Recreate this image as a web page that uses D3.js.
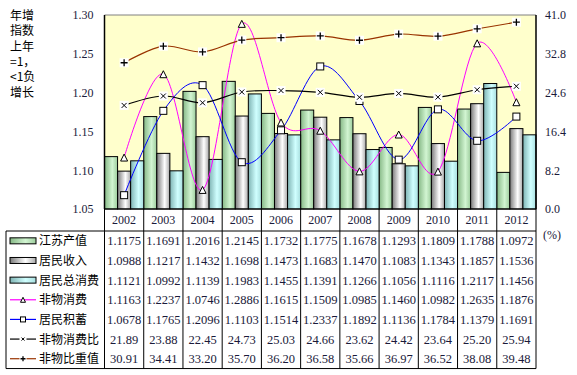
<!DOCTYPE html>
<html>
<head>
<meta charset="utf-8">
<script src="https://cdn.jsdelivr.net/npm/d3@7"></script>
<style>
  body { margin: 0; background: #fff; }
  text { font-family: "Liberation Serif", "Noto Sans CJK SC", serif; }
  .cjk { font-family: "Noto Sans CJK SC", sans-serif; }
</style>
</head>
<body>
<script>
//chart data
var years = ["2002","2003","2004","2005","2006","2007","2008","2009","2010","2011","2012"];
var jiangsuOutput = [1.1175,1.1691,1.2016,1.2145,1.1732,1.1775,1.1678,1.1293,1.1809,1.1788,1.0972];
var residentIncome = [1.0988,1.1217,1.1432,1.1698,1.1473,1.1683,1.1470,1.1083,1.1343,1.1857,1.1536];
var residentConsumption = [1.1121,1.0992,1.1139,1.1983,1.1455,1.1391,1.1266,1.1056,1.1116,1.2117,1.1456];
var nonMatConsumption = [1.1163,1.2237,1.0746,1.2886,1.1615,1.1509,1.0985,1.1460,1.0982,1.2635,1.1876];
var residentSavings = [1.0678,1.1765,1.2096,1.1103,1.1514,1.2337,1.1892,1.1136,1.1784,1.1379,1.1691];
var nonMatRatio = [21.89,23.88,22.45,24.73,25.03,24.66,23.62,24.42,23.64,25.20,25.94];
var nonMatShare = [30.91,34.41,33.20,35.70,36.20,36.58,35.66,36.97,36.52,38.08,39.48];
var leftTicks = [1.05,1.10,1.15,1.20,1.25,1.30];
var rightTicks = [0,8.2,16.4,24.6,32.8,41.0];
var yTitle = ["年增","指数","上年","=1，","<1负","增长"];

//series definitions (bars first, then lines, same order as the table)
var series = [
    {name:"江苏产值", values:jiangsuOutput, type:"bar", grad:"gGreen", fmt:".4f"},
    {name:"居民收入", values:residentIncome, type:"bar", grad:"gGray", fmt:".4f"},
    {name:"居民总消费", values:residentConsumption, type:"bar", grad:"gCyan", fmt:".4f"},
    {name:"非物消费", values:nonMatConsumption, type:"line", axis:"left", color:"#ff00ff", marker:"tri", fmt:".4f"},
    {name:"居民积蓄", values:residentSavings, type:"line", axis:"left", color:"#0000ff", marker:"sq", fmt:".4f"},
    {name:"非物消费比", values:nonMatRatio, type:"line", axis:"right", color:"#000000", marker:"x", fmt:".2f"},
    {name:"非物比重值", values:nonMatShare, type:"line", axis:"right", color:"#993300", marker:"plus", fmt:".2f"}
];

drawChart();

function drawChart(){

    var width = 577, height = 375;
    var plotLeft = 104.5, plotRight = 536, plotTop = 15, plotBottom = 209;
    var tableTop = 231, rowH = 19.65, tableLeft = 6;
    var numColor = "#1a1a3a";

    var svg = d3.select("body").append("svg")
        .attr("width", width)
        .attr("height", height);

    //gradients for the bars
    var defs = svg.append("defs");
    var grads = {
        gGreen: ["#86b886", "#d2f5d2", "#9ccc9c"],
        gGray: ["#7a7a7a", "#ffffff", "#a8a8a8"],
        gCyan: ["#7fb4b4", "#d0ffff", "#a8dede"]
    };
    Object.keys(grads).forEach(function(id){
        var g = defs.append("linearGradient").attr("id", id)
            .attr("x1", "0").attr("x2", "1").attr("y1", "0").attr("y2", "0");
        g.append("stop").attr("offset", "0").attr("stop-color", grads[id][0]);
        g.append("stop").attr("offset", "0.6").attr("stop-color", grads[id][1]);
        g.append("stop").attr("offset", "1").attr("stop-color", grads[id][2]);
    });

    //scales
    var x = d3.scaleBand().domain(years).range([plotLeft, plotRight]).padding(0);
    var barSeries = series.filter(function(s){ return s.type == "bar"; });
    var x1 = d3.scaleBand().domain(barSeries.map(function(s){ return s.name; }))
        .range([0, x.bandwidth()]).padding(0);
    var yL = d3.scaleLinear().domain([1.05, 1.30]).range([plotBottom, plotTop]);
    var yR = d3.scaleLinear().domain([0, 41]).range([plotBottom, plotTop]);

    //plot background
    svg.append("rect")
        .attr("x", plotLeft).attr("y", plotTop)
        .attr("width", plotRight - plotLeft).attr("height", plotBottom - plotTop)
        .attr("fill", "#ffffcc");

    //bars
    barSeries.forEach(function(s){
        svg.selectAll(".bar-" + s.grad)
            .data(s.values)
            .enter()
            .append("rect")
            .attr("x", function(d, i){ return x(years[i]) + x1(s.name); })
            .attr("y", function(d){ return yL(d); })
            .attr("width", x1.bandwidth())
            .attr("height", function(d){ return plotBottom - yL(d); })
            .attr("fill", "url(#" + s.grad + ")")
            .attr("stroke", "#000")
            .attr("stroke-width", 1);
    });

    //marker drawing
    function drawMarker(g, type, size){
        var h = size / 2;
        if (type == "tri") {
            g.append("path").attr("d", "M0," + (-h) + "L" + h + "," + h + "L" + (-h) + "," + h + "Z")
                .attr("fill", "#fff").attr("stroke", "#000").attr("stroke-width", 1);
        } else if (type == "sq") {
            g.append("rect").attr("x", -h).attr("y", -h).attr("width", size).attr("height", size)
                .attr("fill", "#fff").attr("stroke", "#000").attr("stroke-width", 1);
        } else if (type == "x") {
            g.append("rect").attr("x", -h - 1).attr("y", -h - 1).attr("width", size + 2).attr("height", size + 2)
                .attr("fill", "#fff");
            g.append("path").attr("d", "M" + (-h + 1) + "," + (-h + 1) + "L" + (h - 1) + "," + (h - 1) +
                "M" + (h - 1) + "," + (-h + 1) + "L" + (-h + 1) + "," + (h - 1))
                .attr("stroke", "#000").attr("stroke-width", 1);
        } else if (type == "plus") {
            g.append("rect").attr("x", -h - 1).attr("y", -h - 1).attr("width", size + 2).attr("height", size + 2)
                .attr("fill", "#fff");
            g.append("path").attr("d", "M0," + (-h) + "L0," + h + "M" + (-h) + ",0L" + h + ",0")
                .attr("stroke", "#000").attr("stroke-width", 1.3);
        }
    }

    //lines with smoothing
    var lineSeries = series.filter(function(s){ return s.type == "line"; });
    lineSeries.forEach(function(s){
        var yS = s.axis == "left" ? yL : yR;
        var line = d3.line()
            .x(function(d, i){ return x(years[i]) + x.bandwidth() / 2; })
            .y(function(d){ return yS(d); })
            .curve(d3.curveCatmullRom.alpha(0));
        svg.append("path")
            .datum(s.values)
            .attr("d", line)
            .attr("fill", "none")
            .attr("stroke", s.color)
            .attr("stroke-width", s.axis == "left" ? 1 : 1.2);
    });
    lineSeries.forEach(function(s){
        var yS = s.axis == "left" ? yL : yR;
        s.values.forEach(function(d, i){
            var g = svg.append("g")
                .attr("transform", "translate(" + (x(years[i]) + x.bandwidth() / 2) + "," + yS(d) + ")");
            drawMarker(g, s.marker, 7);
        });
    });

    //plot borders
    svg.append("line").attr("x1", plotLeft).attr("x2", plotRight).attr("y1", plotTop).attr("y2", plotTop)
        .attr("stroke", "#808080").attr("stroke-width", 1);
    svg.append("line").attr("x1", plotLeft).attr("x2", plotLeft).attr("y1", plotTop).attr("y2", plotBottom)
        .attr("stroke", "#000").attr("stroke-width", 1.5);
    svg.append("line").attr("x1", plotRight).attr("x2", plotRight).attr("y1", plotTop).attr("y2", plotBottom)
        .attr("stroke", "#000").attr("stroke-width", 1.5);

    //axes
    var axisL = svg.append("g")
        .attr("transform", "translate(" + plotLeft + ",0)")
        .call(d3.axisLeft(yL).tickValues(leftTicks).tickFormat(d3.format(".2f")).tickSize(0).tickPadding(11));
    axisL.select(".domain").remove();
    axisL.selectAll("text").attr("font-size", 12).attr("fill", numColor)
        .style("font-family", "Liberation Serif");

    var axisR = svg.append("g")
        .attr("transform", "translate(" + plotRight + ",0)")
        .call(d3.axisRight(yR).tickValues(rightTicks).tickFormat(d3.format(".1f")).tickSize(0).tickPadding(9));
    axisR.select(".domain").remove();
    axisR.selectAll("text").attr("font-size", 12).attr("fill", numColor)
        .style("font-family", "Liberation Serif");

    //y title
    svg.selectAll(".ytitle")
        .data(yTitle)
        .enter()
        .append("text")
        .attr("class", "cjk")
        .attr("x", 10)
        .attr("y", function(d, i){ return 20 + i * 15.3; })
        .attr("font-size", 12)
        .text(function(d){ return d; });

    //unit label
    svg.append("text")
        .attr("x", 543).attr("y", 239)
        .attr("font-size", 12).attr("fill", numColor)
        .text("(%)");

    //year row
    svg.selectAll(".year")
        .data(years)
        .enter()
        .append("text")
        .attr("x", function(d){ return x(d) + x.bandwidth() / 2; })
        .attr("y", 224)
        .attr("text-anchor", "middle")
        .attr("font-size", 12)
        .attr("fill", numColor)
        .text(function(d){ return d; });

    //data table
    var tableBottom = tableTop + rowH * series.length;
    series.forEach(function(s, r){
        var cy = tableTop + rowH * (r + 0.5);
        //legend key
        var kx0 = 10, kx1 = 36;
        if (s.type == "bar") {
            svg.append("rect").attr("x", kx0).attr("y", cy - 3).attr("width", kx1 - kx0).attr("height", 6)
                .attr("fill", "url(#" + s.grad + ")").attr("stroke", "#000").attr("stroke-width", 1);
        } else {
            svg.append("line").attr("x1", kx0).attr("x2", kx1).attr("y1", cy).attr("y2", cy)
                .attr("stroke", s.color).attr("stroke-width", 1.2);
            var g = svg.append("g").attr("transform", "translate(" + ((kx0 + kx1) / 2) + "," + cy + ")");
            drawMarker(g, s.marker, 5);
        }
        svg.append("text")
            .attr("class", "cjk")
            .attr("x", 39).attr("y", cy + 4.5)
            .attr("font-size", 12)
            .text(s.name);
        //values
        svg.selectAll(".cell-" + r)
            .data(s.values)
            .enter()
            .append("text")
            .attr("x", function(d, i){ return x(years[i]) + x.bandwidth() / 2; })
            .attr("y", cy + 4.5)
            .attr("text-anchor", "middle")
            .attr("font-size", 12.5)
            .attr("fill", numColor)
            .text(function(d){ return d3.format(s.fmt)(d); });
    });

    //table grid
    var grid = svg.append("g").attr("stroke", "#000").attr("stroke-width", 1);
    grid.append("line").attr("x1", plotLeft).attr("x2", plotRight).attr("y1", plotBottom).attr("y2", plotBottom);
    grid.append("line").attr("x1", tableLeft).attr("x2", plotRight).attr("y1", tableTop).attr("y2", tableTop);
    grid.append("line").attr("x1", tableLeft).attr("x2", plotRight).attr("y1", tableBottom).attr("y2", tableBottom);
    grid.append("line").attr("x1", tableLeft).attr("x2", tableLeft).attr("y1", tableTop).attr("y2", tableBottom);
    grid.selectAll(".vline")
        .data(years.concat(["end"]))
        .enter()
        .append("line")
        .attr("x1", function(d){ return d == "end" ? plotRight : x(d); })
        .attr("x2", function(d){ return d == "end" ? plotRight : x(d); })
        .attr("y1", plotBottom)
        .attr("y2", tableBottom);
}
</script>
</body>
</html>
